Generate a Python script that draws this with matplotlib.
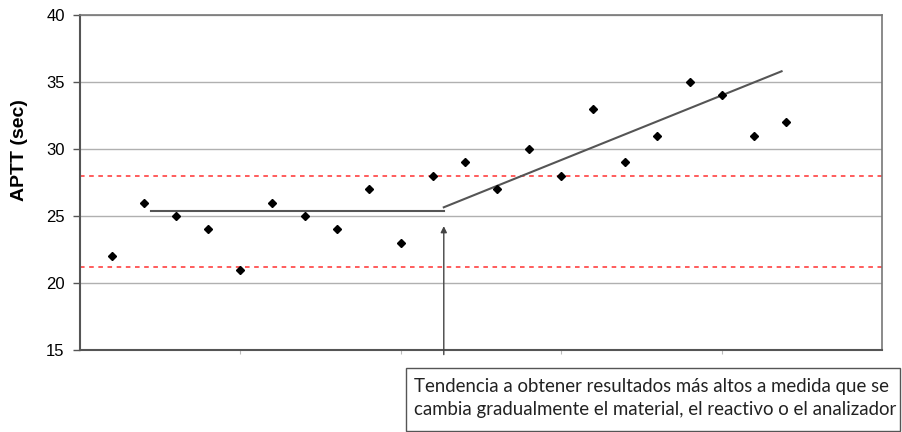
import matplotlib.pyplot as plt
from matplotlib.patches import Rectangle

# APTT control values (sec), one per run
runs = list(range(1, 23))
aptt = [22, 26, 25, 24, 21, 26, 25, 24, 27, 23, 28,
        29, 27, 30, 28, 33, 29, 31, 35, 34, 31, 32]

upper_limit = 28.0
lower_limit = 21.2

# hand-drawn trend segments
flat_x = [2.2, 11.34]
flat_y = [25.4, 25.4]
rise_x = [11.34, 21.87]
rise_y = [25.65, 35.8]

arrow_x = 11.34
arrow_top = 24.45
arrow_bottom = 14.45

note = ("Tendencia a obtener resultados más altos a medida que se\n"
        "cambia gradualmente el material, el reactivo o el analizador")

plt.rcParams['font.family'] = ['Liberation Sans', 'DejaVu Sans']

fig = plt.figure(figsize=(9.02, 4.32), dpi=100)
ax = fig.add_axes([80 / 902, 1 - 350 / 432, 802 / 902, 335 / 432])

ax.set_xlim(0, 25)
ax.set_ylim(15, 40)
ax.set_yticks([15, 20, 25, 30, 35, 40])
ax.set_xticks([5, 10, 15, 20])
ax.set_xticklabels([])
ax.tick_params(axis='y', length=5, width=1, color='#555555', labelsize=12, pad=6)
ax.tick_params(axis='x', length=3, width=0.8, color='#bbbbbb')
ax.yaxis.grid(True, color='#b0b0b0', linewidth=1)
ax.set_axisbelow(True)
for side in ['left', 'bottom']:
    ax.spines[side].set_color('#555555')
    ax.spines[side].set_linewidth(1.5)
for side in ['top', 'right']:
    ax.spines[side].set_color('#777777')
    ax.spines[side].set_linewidth(1.2)

ax.axhline(upper_limit, color='#ff3030', linestyle=(0, (3, 3)), linewidth=1.1)
ax.axhline(lower_limit, color='#ff3030', linestyle=(0, (3, 3)), linewidth=1.1)

ax.plot(flat_x, flat_y, color='#555555', linewidth=1.5)
ax.plot(rise_x, rise_y, color='#555555', linewidth=1.5)

ax.plot(runs, aptt, linestyle='none', marker='D', markersize=3.8, color='black')

ax.annotate('', xy=(arrow_x, arrow_top), xytext=(arrow_x, arrow_bottom),
            arrowprops=dict(arrowstyle='-|>', color='#444444', lw=1,
                            mutation_scale=9),
            annotation_clip=False)

fig.text(20 / 902, 1 - 150 / 432, 'APTT (sec)', fontsize=14, fontweight='bold',
         rotation=90, ha='center', va='center')

fig.patches.append(Rectangle((406 / 902, 1 - 431 / 432), 494 / 902, 63 / 432,
                             transform=fig.transFigure, fill=False,
                             edgecolor='#555555', linewidth=1))
fig.text(414 / 902, 1 - 398 / 432, note, fontsize=13.4, family=['Lato', 'DejaVu Sans'],
         color='#222222', va='center', ha='left', linespacing=1.45)

fig.savefig('out.png', dpi=100)
